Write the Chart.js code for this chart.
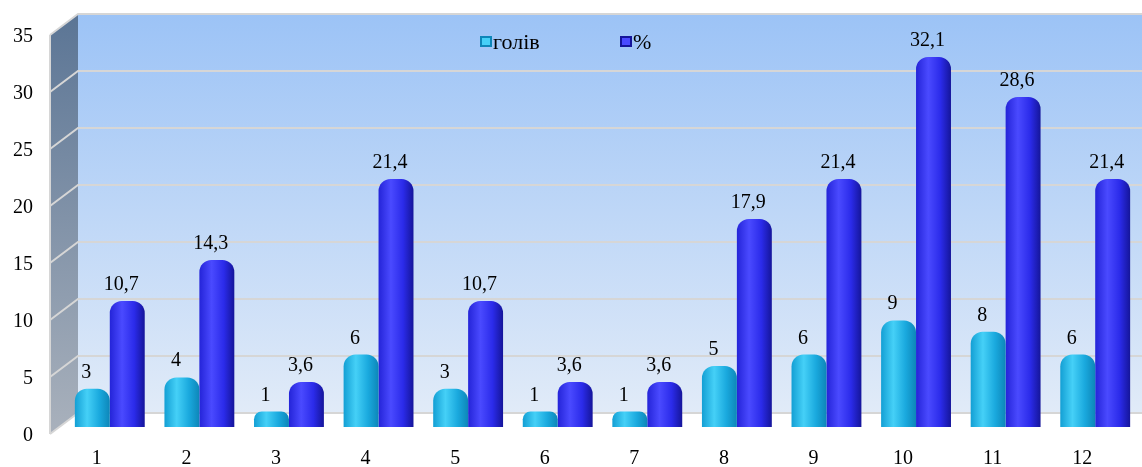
<!DOCTYPE html>
<html>
<head>
<meta charset="utf-8">
<script src="https://cdn.jsdelivr.net/npm/chart.js@4.4.0/dist/chart.umd.min.js"></script>
<style>
  html, body { margin: 0; padding: 0; background: #fff; }
  #wrap { width: 1142px; height: 467px; }
</style>
</head>
<body>
<div id="wrap"><canvas id="chart"></canvas></div>
<script>
// data
const categories = ['1', '2', '3', '4', '5', '6', '7', '8', '9', '10', '11', '12'];
const heads = [3, 4, 1, 6, 3, 1, 1, 5, 6, 9, 8, 6];
const percents = [10.7, 14.3, 3.6, 21.4, 10.7, 3.6, 3.6, 17.9, 21.4, 32.1, 28.6, 21.4];
const seriesNames = ['голів', '%'];
const yMax = 35;
const yStep = 5;

const FONT = '"Liberation Serif", "Times New Roman", serif';
const CAT_PCT = 0.78;

// left, highlight, mid, right colours of the "cylinders"
const shades = [
    ['#139fd4', '#45d0f7', '#1aa9de', '#0d86b8'],
    ['#2424d8', '#4a4aff', '#2b2bea', '#15159a']
];

function cylinder(ctx, dsIndex) {
    const chart = ctx.chart;
    const xs = chart.scales.x;
    const s = shades[dsIndex];
    if (!xs || ctx.dataIndex === undefined || !chart.chartArea) return s[2];
    const center = xs.getPixelForValue(ctx.dataIndex);
    const w = xs.width / categories.length * CAT_PCT / 2;
    const left = dsIndex === 0 ? center - w : center;
    const g = chart.ctx.createLinearGradient(left, 0, left + w, 0);
    g.addColorStop(0, s[0]);
    g.addColorStop(0.35, s[1]);
    g.addColorStop(0.7, s[2]);
    g.addColorStop(1, s[3]);
    return g;
}

// back wall, side wall and grid lines
const wallsPlugin = {
    id: 'walls',
    beforeDraw(chart) {
        const c = chart.ctx;
        const ys = chart.scales.y;
        const sideL = 50, backL = 78;
        const right = chart.width;
        const back = v => ys.getPixelForValue(v) - 10;
        const front = v => ys.getPixelForValue(v) + 11;
        c.save();
        // back wall
        let g = c.createLinearGradient(0, back(yMax), 0, back(0));
        g.addColorStop(0, '#9cc3f6');
        g.addColorStop(1, '#e1ebf8');
        c.fillStyle = g;
        c.fillRect(backL, back(yMax), right - backL, back(0) - back(yMax));
        // side wall
        g = c.createLinearGradient(0, back(yMax), 0, front(0));
        g.addColorStop(0, '#5b7595');
        g.addColorStop(1, '#a9b1bc');
        c.fillStyle = g;
        c.beginPath();
        c.moveTo(sideL, front(yMax));
        c.lineTo(backL, back(yMax));
        c.lineTo(backL, back(0));
        c.lineTo(sideL, front(0));
        c.closePath();
        c.fill();
        // grid lines
        c.strokeStyle = '#d6d6d6';
        c.lineWidth = 2;
        for (let v = 0; v <= yMax; v += yStep) {
            c.beginPath();
            c.moveTo(sideL, front(v));
            c.lineTo(backL, back(v));
            c.lineTo(right, back(v));
            c.stroke();
        }
        c.beginPath();
        c.moveTo(sideL, front(yMax));
        c.lineTo(sideL, front(0));
        c.stroke();
        c.restore();
    }
};

// values above the bars
const valueLabels = {
    id: 'valueLabels',
    afterDatasetsDraw(chart) {
        const c = chart.ctx;
        c.save();
        c.font = '20px ' + FONT;
        c.fillStyle = '#000';
        c.textAlign = 'center';
        c.textBaseline = 'alphabetic';
        chart.data.datasets.forEach((ds, i) => {
            chart.getDatasetMeta(i).data.forEach((el, j) => {
                const txt = String(ds.data[j]).replace('.', ',');
                c.fillText(txt, el.x - 6, el.y - 11);
            });
        });
        c.restore();
    }
};

// legend drawn inside the plot, like the original
const innerLegend = {
    id: 'innerLegend',
    afterDraw(chart) {
        const c = chart.ctx;
        const pos = [480, 620];
        c.save();
        c.font = '22px ' + FONT;
        c.textBaseline = 'middle';
        chart.data.datasets.forEach((ds, i) => {
            const x = pos[i], y = 36;
            const s = shades[i];
            c.fillStyle = s[3];
            c.fillRect(x, y, 12, 11);
            c.fillStyle = s[1];
            c.fillRect(x + 2, y + 2, 8, 7);
            c.fillStyle = '#000';
            c.fillText(ds.label, x + 13, y + 7);
        });
        c.restore();
    }
};

new Chart(document.getElementById('chart'), {
    type: 'bar',
    data: {
        labels: categories,
        datasets: [{
            label: seriesNames[0],
            data: heads,
            backgroundColor: ctx => cylinder(ctx, 0),
            borderRadius: { topLeft: 12, topRight: 12 },
            borderSkipped: 'start'
        }, {
            label: seriesNames[1],
            data: percents,
            backgroundColor: ctx => cylinder(ctx, 1),
            borderRadius: { topLeft: 12, topRight: 12 },
            borderSkipped: 'start'
        }]
    },
    options: {
        responsive: true,
        maintainAspectRatio: false,
        animation: false,
        layout: { padding: { top: 24, right: 2, left: 0, bottom: 0 } },
        datasets: {
            // bars sit slightly in front of the floor line, like the 3D original
            bar: { categoryPercentage: CAT_PCT, barPercentage: 1, base: -0.35, clip: false }
        },
        plugins: {
            legend: { display: false },
            tooltip: { enabled: false }
        },
        scales: {
            x: {
                grid: { display: false, drawTicks: false },
                border: { display: false },
                ticks: {
                    color: '#000',
                    font: { family: FONT, size: 20 },
                    padding: 24,
                    labelOffset: -13
                },
                afterFit(scale) { scale.height = 44; }
            },
            y: {
                min: 0,
                max: yMax,
                grid: { display: false, drawTicks: false },
                border: { display: false },
                ticks: {
                    stepSize: yStep,
                    color: '#000',
                    font: { family: FONT, size: 20 },
                    padding: 32,
                    labelOffset: 13
                },
                afterFit(scale) {
                    scale.width = 65;
                    scale.paddingTop = 0;
                    scale.paddingBottom = 0;
                }
            }
        }
    },
    plugins: [wallsPlugin, valueLabels, innerLegend]
});
</script>
</body>
</html>
